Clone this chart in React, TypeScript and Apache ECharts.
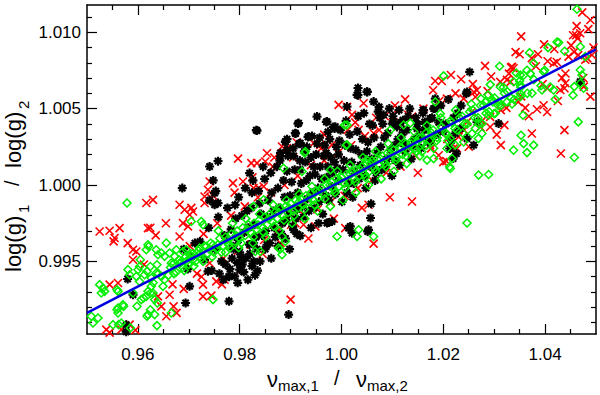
import { useEffect, useRef } from 'react';
import * as echarts from 'echarts';

const X_RANGE = [0.95, 1.05];
const Y_RANGE = [0.99025, 1.01178];
const X_MAJOR = [0.96, 0.98, 1.0, 1.02, 1.04];
const X_MINOR = [0.955, 0.965, 0.97, 0.975, 0.985, 0.99, 0.995, 1.005, 1.01, 1.015, 1.025, 1.03, 1.035, 1.045];
const Y_MAJOR = [0.995, 1.0, 1.005, 1.01];
const Y_MINOR = [0.991, 0.992, 0.993, 0.994, 0.996, 0.997, 0.998, 0.999, 1.001, 1.002, 1.003, 1.004, 1.006, 1.007, 1.008, 1.009, 1.011];

const FIT_LINE = [[0.95, 0.99163], [1.05, 1.00888]];

const BLACK_POINTS = [
  [1.02517, 1.0074], [1.02452, 1.00598], [1.01613, 1.0049], [1.01809, 1.005], [1.01843, 1.00565], [1.01744, 1.00435],
  [1.01636, 1.00413], [1.01483, 1.00369], [1.02126, 1.00239], [1.02258, 1.00206], [1.02193, 1.00173], [1.02466, 1.00609],
  [1.02663, 1.00413], [1.02596, 1.00261], [1.03087, 1.00402], [1.02334, 1.00369], [1.02235, 1.00337], [1.02466, 1.00304],
  [1.0469, 1.00676],
  [0.9834, 1.00356], [0.99157, 1.00405], [0.99519, 1.00448], [0.99715, 1.00415], [0.99878, 1.00382], [1.00108, 1.00513],
  [1.00305, 1.0059], [1.00501, 1.00611], [1.00631, 1.00546], [1.00827, 1.00459], [1.01024, 1.00415], [1.0122, 1.00361],
  [0.99092, 1.00339], [0.99354, 1.00317], [0.98896, 1.00284], [0.98929, 1.0023], [0.98798, 1.00186], [0.99191, 1.00274],
  [0.98273, 0.995], [1.0057, 0.99784], [1.00173, 0.99729], [1.00532, 0.99707], [0.99715, 0.99751], [0.99813, 0.99761],
  [0.98961, 0.99152], [1.00139, 0.99718], [1.00206, 0.99686], [1.00513, 0.99696], [1.0058, 0.99877], [0.99747, 0.99755],
  [0.9919, 0.99668], [0.99059, 0.99707], [0.98536, 0.99609], [0.98273, 0.9962],
  [0.98326, 1.00359], [0.97574, 1.00156], [0.98902, 1.00282], [0.99145, 1.00402], [0.99098, 1.00337], [0.99342, 1.00315],
  [0.99177, 1.00271], [0.99701, 1.00413], [0.99735, 1.00348], [0.99864, 1.00369], [1.00324, 1.00635], [1.00324, 1.00588],
  [1.00507, 1.00609], [1.00737, 1.00511], [1.0113, 1.0049], [1.01208, 1.00424], [1.01601, 1.0049], [1.00998, 1.00402],
  [0.96872, 0.9998], [0.97409, 1.00121], [0.98194, 1.00078], [0.97507, 0.99871], [0.97574, 0.99882], [0.97507, 0.99947],
  [0.979, 0.99402], [0.97998, 0.99446], [0.9779, 0.99402], [0.97377, 0.99435], [0.9779, 0.99239], [0.97016, 0.99337],
  [0.96937, 0.99228], [0.95904, 0.99282], [0.95772, 0.99086], [0.95798, 0.99385], [0.9577, 0.9904],
  [0.9722, 0.9963], [0.9731, 0.9951], [0.9739, 0.9972], [0.9745, 0.9944], [0.9752, 0.9958], [0.9758, 0.9979],
  [0.9764, 0.995], [0.977, 0.9967], [0.9776, 0.9985], [0.9781, 0.9945], [0.9787, 0.996], [0.9792, 0.9978],
  [0.9798, 0.9992], [0.9803, 0.9953], [0.9809, 0.9969], [0.9814, 0.9983], [0.9819, 0.9961], [0.9824, 0.9995],
  [0.9829, 0.9974], [0.9834, 0.9958], [0.9839, 0.9988], [0.9844, 0.9967], [0.9849, 1.0004], [0.9854, 0.9979],
  [0.9859, 0.9962], [0.9863, 0.9995], [0.9868, 0.9972], [0.9873, 1.0012], [0.9877, 0.9985], [0.9882, 0.9968],
  [0.9886, 1.0003], [0.9891, 0.9977], [0.9895, 1.0019], [0.9899, 0.9993], [0.9904, 0.9973], [0.9908, 1.001],
  [0.9912, 0.9984], [0.9917, 1.0027], [0.9921, 1.0001], [0.9925, 0.9979], [0.9929, 1.0015], [0.9933, 0.9991],
  [0.9938, 1.0006], [0.9942, 1.0032], [0.9946, 0.9985], [0.995, 1.002], [0.9954, 0.9998], [0.9958, 1.0012],
  [0.9963, 0.9981], [0.9967, 1.0026], [0.9971, 1.0005], [0.9975, 0.999], [0.9979, 1.0018], [0.9984, 1.0038],
  [0.9988, 0.9994], [0.9992, 1.0011], [0.9996, 1.0029], [1.0001, 0.9989], [1.0005, 1.0016], [1.0009, 1.0042],
  [1.0013, 1.0001], [1.0018, 1.0024], [1.0022, 0.9992], [1.0026, 1.0009], [1.0031, 1.0035], [1.0035, 1.0004],
  [1.0039, 1.002], [1.0044, 1.0047], [1.0048, 0.9998], [1.0052, 1.0028], [1.0057, 1.0012], [1.0061, 1.0039],
  [1.0066, 1.0003], [1.007, 1.0021], [1.0075, 1.0044], [1.0079, 1.001], [1.0084, 1.0031], [1.0089, 1.0017],
  [1.0094, 1.005], [1.0099, 1.0006], [1.0104, 1.0026], [1.0109, 1.0038], [1.0114, 1.0013], [1.0119, 1.0033],
  [1.0125, 1.0022], [1.0131, 1.0045], [1.0137, 1.0017], [1.0143, 1.003], [1.0149, 1.004], [1.0156, 1.0024],
  [1.0163, 1.0036], [1.017, 1.0028], [1.0178, 1.0044], [1.0186, 1.0033], [1.0195, 1.0052], [1.0205, 1.004],
  [1.0216, 1.0029], [1.0228, 1.0047],
  [0.9795, 0.9949], [0.9808, 0.9943], [0.9816, 0.9938], [0.9824, 0.9947], [0.9812, 0.9952], [0.983, 0.9941],
  [0.98, 0.9956], [0.9788, 0.9958], [0.9741, 0.999], [0.9753, 0.9996], [0.9748, 1.0003],
  [0.988, 1.0021], [0.9893, 1.003], [0.9905, 1.0024], [0.9918, 1.0016], [0.9932, 1.0025], [0.9945, 1.0012],
  [0.9957, 1.0031], [0.997, 1.0021], [0.9982, 1.0008], [0.9994, 1.002],
  [0.9783, 0.9971], [0.9791, 0.9987], [0.9797, 0.9964], [0.9804, 0.998], [0.9811, 0.9998], [0.9817, 0.9972],
  [0.9823, 0.9985], [0.9826, 1.0003], [0.9832, 0.9966], [0.9837, 0.9996], [0.9842, 0.9981], [0.9846, 1.0012],
  [0.9851, 0.997], [0.9856, 0.999], [0.9861, 1.0008], [0.9866, 0.9983], [0.987, 0.9966], [0.9875, 0.9998],
  [0.9879, 1.0016], [0.9884, 0.9975], [0.9888, 0.9992], [0.9893, 1.0009], [0.9897, 0.9981], [0.9902, 1.0002],
  [0.9906, 1.0019], [0.991, 0.9978], [0.9914, 0.9995], [0.9919, 1.001], [0.9923, 0.9986], [0.9927, 1.0022],
  [0.9931, 1.0003], [0.9936, 0.9983], [0.994, 1.0018], [0.9944, 0.9995], [0.9948, 1.0007], [0.9952, 1.0027],
  [0.9956, 0.9989], [0.9961, 1.0004], [0.9965, 1.0019], [0.9969, 0.9993], [0.9973, 1.0012], [0.9977, 1.003],
  [0.9981, 0.9999], [0.9986, 1.0015], [0.999, 1.0025], [0.9994, 1.0003], [0.9998, 1.0036], [1.0003, 1.001],
  [1.0007, 1.0026], [1.0011, 0.9995], [1.0016, 1.0033], [1.002, 1.0015], [1.0024, 1.0001], [1.0028, 1.0023],
  [1.0033, 1.0045], [1.0037, 1.0013], [1.0041, 1.003], [1.0046, 1.0006], [1.005, 1.0022], [1.0055, 1.004],
  [1.0059, 1.0017], [1.0064, 1.0031], [1.0068, 1.0008], [1.0072, 1.0048], [1.0077, 1.0025], [1.0081, 1.004],
  [1.0086, 1.0012], [1.0091, 1.0034], [1.0096, 1.0023], [1.0101, 1.0045], [1.0106, 1.0016], [1.0111, 1.003],
  [1.0116, 1.0041], [1.0122, 1.0027], [1.0128, 1.0036], [1.0134, 1.005], [1.014, 1.0025], [1.0146, 1.0044],
  [1.0153, 1.0032], [1.016, 1.0047], [1.0167, 1.0038], [1.0175, 1.0029], [1.0183, 1.005], [1.0191, 1.0041],
  [1.02, 1.0035], [1.021, 1.0056], [1.022, 1.0044], [1.0235, 1.0052],
  [0.9772, 0.9948], [0.9779, 0.994], [0.9796, 0.9936], [0.982, 0.9955], [0.984, 0.995], [0.976, 0.9942],
  [0.9705, 0.9953], [0.9712, 0.9962], [0.9698, 0.9945], [0.969, 0.9958],
  [0.9768, 0.9938], [0.9785, 0.9952], [0.9805, 0.9948], [0.9835, 0.9944], [0.985, 0.9958], [0.9862, 0.9952],
  [0.9875, 0.996], [0.989, 0.9965], [0.9898, 0.9958], [0.9912, 0.9968], [0.994, 0.9972], [0.9955, 0.9975],
];

const RED_POINTS = [
  [1.0353, 1.00973], [1.035, 1.00856], [1.0386, 1.00856], [1.0451, 1.00914], [1.0461, 1.0098], [1.0457, 1.00871],
  [1.0465, 1.0085], [1.0479, 1.0082], [1.0423, 1.00805], [1.0405, 1.0081], [1.0335, 1.00773], [1.0382, 1.00777],
  [1.0329, 1.00729], [1.0184, 1.00681], [1.0197, 1.00681], [1.0235, 1.00692], [1.026, 1.00609], [1.0312, 1.00675],
  [1.0332, 1.00675], [1.0287, 1.00614], [1.0263, 1.00576], [1.0292, 1.0038], [1.032, 1.00392], [1.0324, 1.00505],
  [1.0347, 1.00544], [1.0361, 1.00505], [1.0384, 1.00496], [1.0404, 1.00478], [1.0438, 1.00633], [1.0433, 1.00701],
  [1.0397, 1.00522], [1.0313, 1.00261], [1.0374, 1.00337], [1.0438, 1.00359], [1.0431, 1.00206], [1.0206, 1.00156],
  [1.0227, 1.00239], [1.0207, 1.00565], [1.024, 1.00565], [1.0266, 1.0062], [1.0256, 1.00478], [1.0191, 1.00195],
  [1.0174, 1.00261], [1.022, 1.00239], [1.023, 1.00315], [1.0247, 1.00413], [1.0273, 1.0038], [1.0292, 1.00446],
  [1.0469, 1.00993], [1.0464, 1.0096], [1.0446, 1.0084], [1.0483, 1.00829], [1.0492, 1.00851], [1.0417, 1.00797],
  [1.044, 1.00666], [1.043, 1.00622], [1.0404, 1.00633], [1.0338, 1.00764], [1.0325, 1.00688], [1.0476, 1.00644],
  [1.0489, 1.00578], [1.0473, 1.0113], [1.0489, 1.0108], [1.0462, 1.0104],
  [0.96165, 0.99882], [0.96297, 0.99903], [0.95248, 0.99696], [0.95444, 0.99701], [0.9564, 0.99718], [0.95542, 0.99653],
  [0.96198, 0.99718], [0.96244, 0.9972], [0.95904, 0.99576], [0.95969, 0.99565], [0.95904, 0.99511], [0.96819, 0.99871],
  [0.96918, 0.99838], [0.97083, 0.99827], [0.97016, 0.99805], [0.96886, 0.99751], [0.96984, 0.99729], [0.96819, 0.99663],
  [0.97409, 1.00023], [0.97377, 0.99969], [0.9731, 0.99882], [0.9731, 0.99925], [0.97868, 1.00012], [0.98065, 1.00023],
  [0.98228, 1.00143], [0.97442, 0.99914], [0.9754, 0.99369], [0.97703, 0.9938], [0.97279, 0.99348], [0.97279, 0.99271],
  [0.97442, 0.99276], [0.96623, 0.99282], [0.96701, 0.99206], [0.9676, 0.99163], [0.96395, 0.99271], [0.9646, 0.99206],
  [0.96558, 0.99141], [0.95444, 0.99348], [0.95609, 0.99359], [0.95837, 0.99086], [0.95674, 0.99054], [0.95379, 0.99054],
  [0.95444, 0.99034], [0.95523, 0.99631], [0.9595, 0.9905],
  [0.98831, 1.00252], [0.98929, 1.00241], [0.98536, 1.00208], [0.98503, 1.00154], [0.9834, 1.00143], [0.98273, 0.9998],
  [0.98371, 0.9998], [0.9847, 0.9999], [0.99943, 1.00524], [1.00434, 1.00535], [1.00206, 1.00459], [1.00336, 1.00361],
  [1.00631, 1.00339], [0.99583, 1.00263], [0.99452, 1.00274], [0.99813, 1.00263], [1.01385, 1.00448], [1.01385, 0.99892],
  [1.00532, 0.99871], [1.00631, 0.99616], [0.99485, 0.99729], [1.00075, 0.99718], [0.99, 0.9925], [0.99255, 0.9974],
  [0.99092, 0.99751], [0.97967, 1.00173], [1.0011, 1.00511], [1.0111, 1.005],
  [0.9702, 0.996], [0.9716, 0.9942], [0.9729, 0.9968], [0.9741, 0.9949], [0.9756, 0.9975], [0.9768, 0.9952],
  [0.9783, 0.998], [0.9797, 0.9957], [0.981, 0.9986], [0.9822, 0.9961], [0.9836, 0.9992], [0.9848, 0.9964],
  [0.9861, 0.9995], [0.9875, 0.997], [0.9888, 1.0], [0.9901, 0.9974], [0.9914, 1.0006], [0.9927, 0.998],
  [0.994, 1.0013], [0.9953, 0.9984], [0.9966, 1.0016], [0.9979, 0.9989], [0.9993, 1.0021], [1.0006, 0.9993],
  [1.0019, 1.0026], [1.0032, 0.9998], [1.0046, 1.0032], [1.006, 1.0003], [1.0074, 1.0036], [1.0088, 1.0008],
  [1.0102, 1.0041], [1.0116, 1.0012], [1.0131, 1.0046], [1.0146, 1.0019], [1.0161, 1.005], [1.0176, 1.0024],
  [1.0192, 1.0055], [1.0208, 1.003], [1.0224, 1.006], [1.0241, 1.0036], [1.0258, 1.0066], [1.0276, 1.0042],
  [1.0294, 1.0071], [1.0313, 1.0049], [1.0333, 1.0077], [1.0353, 1.0058], [1.0374, 1.0083], [1.0395, 1.0066],
  [1.0418, 1.0089], [1.044, 1.0073],
  [0.9868, 1.0018], [0.9912, 1.0028], [0.9966, 1.0033], [1.0027, 1.0041], [1.0085, 1.0045], [1.0105, 1.0052],
  [0.958, 0.9962], [0.9612, 0.9948], [0.9635, 0.9967], [0.9655, 0.9975], [0.9668, 0.9935], [0.969, 0.9932],
  [0.9705, 0.9985], [0.9725, 0.994], [0.9748, 0.9993], [0.9765, 0.9935], [0.979, 0.9995], [0.9803, 0.9945],
  [0.9825, 1.0005], [0.9845, 0.9955], [0.9865, 1.0012], [0.988, 0.9962], [0.9905, 1.0018], [0.9935, 0.9965],
  [0.996, 1.0024], [0.9985, 0.9978], [1.0012, 1.0036], [1.004, 0.9985], [1.0068, 1.0044], [1.0095, 0.9992],
  [1.0125, 1.0056], [1.015, 1.0008], [1.018, 1.0062], [1.02, 1.0015], [1.0215, 1.0072], [1.025, 1.0025],
  [1.0282, 1.0078], [1.0305, 1.0033], [1.0342, 1.0087], [1.0368, 1.0045], [1.0398, 1.0092], [1.0425, 1.0055],
  [1.0455, 1.0098], [1.0475, 1.007], [1.0495, 1.009], [1.0485, 1.0102],
];

const GREEN_POINTS = [
  [1.04627, 1.0115], [1.04057, 1.00899], [1.04234, 1.00936], [1.03695, 1.00866], [1.04383, 1.00875], [1.0399, 1.00751],
  [1.03106, 1.00777], [1.03644, 1.00751], [1.03709, 1.00729], [1.03578, 1.00718], [1.03434, 1.00733], [1.02006, 1.00714],
  [1.02923, 1.00657], [1.0312, 1.00642], [1.02741, 1.00565], [1.02825, 1.00544], [1.02976, 1.00544], [1.03251, 1.00544],
  [1.03513, 1.00598], [1.03566, 1.00457], [1.042, 1.00561], [1.04102, 1.00642], [1.04574, 1.00644], [1.04548, 1.00588],
  [1.04652, 1.00413], [1.03527, 1.00326], [1.03578, 1.00271], [1.03774, 1.00261], [1.03381, 1.00228], [1.03644, 1.00212],
  [1.04574, 1.0018], [1.02693, 1.00065], [1.0289, 1.00069], [1.02124, 1.00119],
  [1.04266, 1.00932], [1.04692, 1.00905], [1.0479, 1.0084], [1.04692, 1.00753], [1.04725, 1.0072], [1.04692, 1.00666],
  [1.04756, 1.00633], [1.0397, 1.00742], [1.04167, 1.00622], [1.03939, 1.00622], [1.03774, 1.00797], [1.03513, 1.0072],
  [1.03381, 1.00676], [1.03513, 1.00655], [1.03743, 1.00601], [1.03513, 1.00578],
  [0.95786, 0.99882], [0.96198, 0.99609], [0.96165, 0.99576], [0.96558, 0.9962], [0.97049, 0.99761], [0.97246, 0.99761],
  [0.97279, 0.9974], [0.97475, 0.9925], [0.96656, 0.99163], [0.96328, 0.9925], [0.96381, 0.99228], [0.96198, 0.99152],
  [0.96328, 0.99152], [0.96375, 0.9908], [0.95904, 0.99293], [0.96198, 0.99304], [0.96165, 0.99271], [0.96067, 0.9925],
  [0.95707, 0.99217], [0.95609, 0.99195], [0.95609, 0.99163], [0.95674, 0.99097], [0.95511, 0.99086], [0.95084, 0.99141],
  [0.95216, 0.9913], [0.95118, 0.99097], [0.95248, 0.99348], [0.95314, 0.99326], [0.95346, 0.99304], [0.95281, 0.99293],
  [0.95609, 0.99304], [0.95837, 0.99413], [0.96002, 0.99446], [0.96033, 0.99467], [0.95805, 0.99446], [0.95969, 0.99402],
  [0.96033, 0.99369], [0.96132, 0.99413], [0.96361, 0.99576], [0.96395, 0.99544], [0.9646, 0.99555], [0.96525, 0.99533],
  [0.96623, 0.99555], [0.96754, 0.99576], [0.96721, 0.99533], [0.96886, 0.99565], [0.96951, 0.99576], [0.97016, 0.99544],
  [0.97147, 0.99555], [0.97212, 0.99588], [0.97344, 0.99598], [0.97475, 0.99609], [0.96656, 0.9949], [0.96819, 0.9949],
  [0.96951, 0.995], [0.97083, 0.99511], [0.96361, 0.99424], [0.96263, 0.99391], [0.9646, 0.99402], [0.96493, 0.99337],
  [0.96263, 0.99337], [0.96297, 0.99293],
  [0.95589, 0.99315], [0.96179, 0.99435], [0.96244, 0.99467], [0.96375, 0.99478], [0.96047, 0.99511], [0.9621, 0.99598],
  [0.95589, 0.99184], [0.95719, 0.99206], [0.95851, 0.99065], [0.95621, 0.99086], [0.96179, 0.99141], [0.96244, 0.99184],
  [0.95982, 0.99206], [0.96112, 0.99261], [0.96244, 0.99293],
  [0.98798, 0.99581], [0.98831, 0.99544], [0.99912, 0.99663], [1.00336, 0.99707], [1.00305, 0.99663], [1.00631, 0.99663],
  [0.98764, 0.99588], [0.98896, 0.99631], [0.98405, 0.99565], [0.98307, 0.99565], [1.02466, 0.99751],
  [1.00061, 1.00392], [0.99275, 1.0021], [1.00094, 1.00261],
  [0.99291, 1.00219], [0.98862, 1.0011], [0.99224, 1.00088], [1.00108, 1.00393], [1.00108, 1.00263], [0.9978, 1.00099],
  [1.00959, 1.0036], [1.0122, 1.00393], [1.01352, 1.00405], [1.005, 1.00165], [0.9847, 0.99903], [0.98273, 0.9986],
  [0.98831, 0.99663],
  [1.01483, 1.00282], [1.0158, 1.00217], [1.0168, 1.00163], [1.0181, 1.00173], [1.02072, 1.00239], [1.02138, 1.00304],
  [1.02235, 1.00261], [1.024, 1.00282], [1.02564, 1.00337], [1.0263, 1.0037], [1.0276, 1.00337], [1.0269, 1.00304],
  [1.02138, 1.00108], [1.0217, 1.00173], [1.0276, 1.00402], [1.0289, 1.00457], [1.03, 1.00467], [1.0309, 1.00544],
  [1.01941, 1.00467], [1.01843, 1.00544],
  [0.966, 0.9941], [0.9668, 0.9948], [0.9675, 0.9943], [0.9681, 0.9951], [0.9688, 0.9946], [0.9694, 0.9953],
  [0.97, 0.9948], [0.9707, 0.9955], [0.9713, 0.995], [0.9719, 0.9957], [0.9725, 0.9952], [0.9731, 0.996],
  [0.9737, 0.9955], [0.9743, 0.9962], [0.9749, 0.9956], [0.9755, 0.9958], [0.9761, 0.9965], [0.9767, 0.996],
  [0.9772, 0.9966], [0.9778, 0.9961], [0.9784, 0.9968], [0.979, 0.9963], [0.9795, 0.997], [0.98, 0.9965],
  [0.9806, 0.9972], [0.9811, 0.9967], [0.9817, 0.9974], [0.9822, 0.9969], [0.9828, 0.9975], [0.9833, 0.9971],
  [0.9838, 0.9977], [0.9843, 0.9973], [0.9849, 0.9979], [0.9854, 0.9974], [0.9859, 0.9981], [0.9864, 0.9976],
  [0.9869, 0.9982], [0.9874, 0.9978], [0.988, 0.9985], [0.9885, 0.998], [0.989, 0.9986], [0.9895, 0.9982],
  [0.99, 0.9988], [0.9905, 0.9983], [0.991, 0.999], [0.9915, 0.9985], [0.992, 0.9991], [0.9925, 0.9987],
  [0.993, 0.9993], [0.9935, 0.9989], [0.994, 0.9995], [0.9945, 0.999], [0.995, 0.9996], [0.9955, 0.9992],
  [0.996, 0.9998], [0.9965, 0.9994], [0.997, 1.0], [0.9975, 0.9996], [0.998, 1.0002], [0.9985, 0.9997],
  [0.999, 1.0004], [0.9995, 0.9999], [1.0, 1.0005], [1.0005, 1.0001], [1.001, 1.0007], [1.0015, 1.0002],
  [1.002, 1.0009], [1.0025, 1.0004], [1.003, 1.001], [1.0035, 1.0006], [1.004, 1.0012], [1.0045, 1.0007],
  [1.005, 1.0014], [1.0055, 1.0009], [1.006, 1.0016], [1.0065, 1.0011], [1.007, 1.0017], [1.0075, 1.0013],
  [1.008, 1.0019], [1.0085, 1.0014], [1.009, 1.0021], [1.0096, 1.0016], [1.0102, 1.0023], [1.0108, 1.0018],
  [1.0114, 1.0025], [1.012, 1.002], [1.0126, 1.0027], [1.0132, 1.0022], [1.0138, 1.0029], [1.0145, 1.0024],
  [1.0152, 1.0031], [1.0159, 1.0027], [1.0166, 1.0034], [1.0173, 1.0029], [1.018, 1.0036], [1.0188, 1.0031],
  [1.0196, 1.0038], [1.0205, 1.0034], [1.0214, 1.0042], [1.0223, 1.0037], [1.0232, 1.0044], [1.0242, 1.004],
  [1.0252, 1.0048], [1.0262, 1.0044], [1.0273, 1.0052], [1.0284, 1.0047], [1.0296, 1.0056], [1.0308, 1.0052],
  [1.032, 1.006], [1.0333, 1.0057],
  [0.9758, 0.997], [0.9772, 0.9956], [0.9786, 0.9975], [0.9798, 0.9959], [0.9812, 0.9978], [0.9826, 0.9962],
  [0.9839, 0.9981], [0.9851, 0.9966], [0.9866, 0.9987], [0.9878, 0.997], [0.9892, 0.999], [0.9903, 0.9975],
  [0.9917, 0.9994], [0.9928, 0.9978], [0.9942, 0.9999], [0.9953, 0.9983], [0.9967, 1.0004], [0.9978, 0.9986],
  [0.9992, 1.0009], [1.0003, 0.999], [1.0017, 1.0013], [1.0028, 0.9995], [1.0042, 1.0018], [1.0053, 1.0],
  [1.0067, 1.0022], [1.0078, 1.0004], [1.0092, 1.0027], [1.0103, 1.0009], [1.0117, 1.0031], [1.0128, 1.0014],
  [1.0142, 1.0035], [1.0154, 1.0019], [1.0168, 1.0039], [1.0181, 1.0024], [1.0195, 1.0044], [1.0209, 1.0029],
  [1.0224, 1.0049], [1.0238, 1.0034], [1.0255, 1.0053], [1.027, 1.004], [1.0288, 1.0059], [1.0302, 1.0047],
  [1.0318, 1.0064], [1.0335, 1.0053], [1.035, 1.0068],
  [0.963, 0.9936], [0.964, 0.9942], [0.9652, 0.9938], [0.9664, 0.9946], [0.9671, 0.9942], [0.9684, 0.9949],
  [0.9691, 0.9944], [0.9703, 0.9952], [0.971, 0.9947], [0.9722, 0.9955], [0.9728, 0.995], [0.974, 0.9958],
  [0.9746, 0.9953], [0.9757, 0.9961], [0.9764, 0.9956], [0.9775, 0.9964], [0.9781, 0.9959], [0.9793, 0.9967],
  [0.9803, 0.9962], [0.9815, 0.9971], [0.9827, 0.9966], [0.9836, 0.9974], [0.9847, 0.9969], [0.9857, 0.9978],
  [0.9867, 0.9973], [0.9877, 0.9982], [0.9887, 0.9977], [0.9897, 0.9985], [0.9907, 0.998], [0.9917, 0.9989],
  [0.9927, 0.9984], [0.9937, 0.9992], [0.9947, 0.9987], [0.9957, 0.9996], [0.9967, 0.9991], [0.9977, 1.0],
  [0.9987, 0.9995], [0.9997, 1.0003], [1.0007, 0.9998], [1.0017, 1.0007], [1.0027, 1.0002], [1.0037, 1.001],
  [1.0047, 1.0005], [1.0057, 1.0014], [1.0067, 1.0009], [1.0077, 1.0017], [1.0087, 1.0012], [1.0097, 1.0021],
  [1.0107, 1.0016], [1.0117, 1.0024], [1.0127, 1.0019], [1.0137, 1.0027], [1.0147, 1.0022], [1.0157, 1.0031],
  [1.0167, 1.0026], [1.0177, 1.0034], [1.0187, 1.0029], [1.0197, 1.0038], [1.0207, 1.0033], [1.0217, 1.0041],
  [1.0227, 1.0036], [1.0237, 1.0045], [1.0247, 1.004], [1.0258, 1.0049], [1.0268, 1.0044], [1.0279, 1.0052],
  [1.029, 1.0048], [1.0301, 1.0057], [1.0313, 1.0052], [1.0326, 1.0061], [1.0339, 1.0056], [1.0352, 1.0064],
  [1.0365, 1.006], [1.0378, 1.0069], [1.0392, 1.0065],
];

const FONT = 'Liberation Sans';
const ASTERISK = 'path://M4,0L4,8M0,4L8,4M1.2,1.2L6.8,6.8M1.2,6.8L6.8,1.2';
const CROSS = 'path://M0,0L8,8M0,8L8,0';

export default function App() {
  const ref = useRef<HTMLDivElement>(null);

  useEffect(() => {
    if (!ref.current) return;
    const chart = echarts.init(ref.current, null, { renderer: 'svg' });
    const lineStyle = { color: '#000', width: 1.5 };
    const tickStyle = { color: '#000', width: 1.2 };

    const xAxisDef = (position: string, values: number[], len: number, label: boolean, line: boolean) => ({
      type: 'value',
      position,
      min: X_RANGE[0],
      max: X_RANGE[1],
      axisLine: { show: line, onZero: false, lineStyle },
      axisTick: { show: true, inside: true, length: len, customValues: values, lineStyle: tickStyle },
      axisLabel: label
        ? { show: true, customValues: values, formatter: (v: number) => v.toFixed(2), margin: 12, fontSize: 17, fontFamily: FONT, color: '#000' }
        : { show: false },
      splitLine: { show: false },
    });
    const yAxisDef = (position: string, values: number[], len: number, label: boolean, line: boolean) => ({
      type: 'value',
      position,
      min: Y_RANGE[0],
      max: Y_RANGE[1],
      axisLine: { show: line, onZero: false, lineStyle },
      axisTick: { show: true, inside: true, length: len, customValues: values, lineStyle: tickStyle },
      axisLabel: label
        ? { show: true, customValues: values, formatter: (v: number) => v.toFixed(3), margin: 6, fontSize: 17, fontFamily: FONT, color: '#000' }
        : { show: false },
      splitLine: { show: false },
    });

    const txt = (text: string, x: number, y: number, size: number) => ({
      type: 'text',
      x,
      y,
      style: { text, fontSize: size, fontFamily: FONT, fill: '#000', textAlign: 'left', textVerticalAlign: 'middle', verticalAlign: 'middle' },
    });

    chart.setOption({
      animation: false,
      backgroundColor: '#fff',
      grid: { left: 87, right: 4, top: 5, bottom: 61, containLabel: false },
      xAxis: [
        xAxisDef('bottom', X_MAJOR, 10, true, true),
        xAxisDef('bottom', X_MINOR, 5, false, false),
        xAxisDef('top', X_MAJOR, 10, false, true),
        xAxisDef('top', X_MINOR, 5, false, false),
      ],
      yAxis: [
        yAxisDef('left', Y_MAJOR, 10, true, true),
        yAxisDef('left', Y_MINOR, 5, false, false),
        yAxisDef('right', Y_MAJOR, 10, false, true),
        yAxisDef('right', Y_MINOR, 5, false, false),
      ],
      series: [
        {
          type: 'scatter', data: RED_POINTS, symbol: CROSS, symbolSize: 8, progressive: 0, silent: true,
          itemStyle: { color: 'transparent', borderColor: '#ff0000', borderWidth: 1.6, opacity: 1 }, z: 2,
        },
        {
          type: 'scatter', data: BLACK_POINTS, symbol: ASTERISK, symbolSize: 9, progressive: 0, silent: true,
          itemStyle: { color: 'transparent', borderColor: '#000', borderWidth: 2.2, opacity: 1 }, z: 3,
        },
        {
          type: 'scatter', data: GREEN_POINTS, symbol: 'diamond', symbolSize: 8, progressive: 0, silent: true,
          itemStyle: { color: 'transparent', borderColor: '#00ee00', borderWidth: 1.5, opacity: 1 }, z: 4,
        },
        {
          type: 'line', data: FIT_LINE, symbol: 'none', silent: true,
          lineStyle: { color: '#0000e0', width: 2.5 }, z: 5,
        },
      ],
      graphic: [
        {
          type: 'group',
          children: [
            txt('\u03bd', 267, 379, 22),
            txt('max,1', 278, 385, 15),
            txt('/', 334, 378, 20),
            txt('\u03bd', 356, 379, 22),
            txt('max,2', 367, 385, 15),
          ],
        },
        {
          type: 'group',
          x: 13,
          y: 272,
          rotation: Math.PI / 2,
          children: [
            txt('log(g)', 0, 0, 22),
            txt('1', 59, 10, 15),
            txt('/', 86, -1, 20),
            txt('log(g)', 104, 0, 22),
            txt('2', 163, 10, 15),
          ],
        },
      ],
    });

    return () => chart.dispose();
  }, []);

  return <div ref={ref} style={{ position: 'absolute', left: 0, top: 0, width: 600, height: 395, background: '#fff' }} />;
}
